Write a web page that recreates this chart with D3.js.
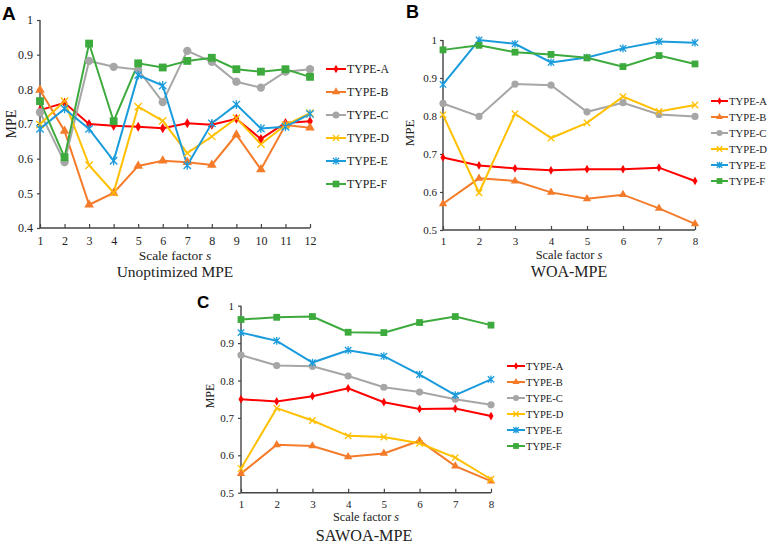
<!DOCTYPE html>
<html lang="en">
<head>
    <meta charset="UTF-8">
    <title>MPE comparison</title>
    <script src="https://d3js.org/d3.v7.min.js"></script>
    <style>
        body {
            margin: 0;
            background: #ffffff;
        }
        svg text {
            font-family: "Liberation Serif", "Times New Roman", serif;
            fill: #222;
        }
        svg text.panel-letter {
            font-family: "Liberation Sans", Arial, sans-serif;
            font-weight: bold;
            fill: #000;
        }
    </style>
</head>
<body>
<div id="chart"></div>
<script>
    // Series names shared by all three panels
    const seriesNames = ["TYPE-A", "TYPE-B", "TYPE-C", "TYPE-D", "TYPE-E", "TYPE-F"];
    const seriesColors = ["#ff0000", "#f47b2a", "#a6a6a6", "#ffc000", "#1a9bdc", "#3caa3c"];

    // Panel A - Unoptimized MPE (scale factor 1..12)
    const scalesA = [1, 2, 3, 4, 5, 6, 7, 8, 9, 10, 11, 12];
    const unoptTypeA = [0.740, 0.761, 0.700, 0.695, 0.692, 0.688, 0.702, 0.698, 0.715, 0.657, 0.703, 0.708];
    const unoptTypeB = [0.798, 0.680, 0.467, 0.501, 0.579, 0.594, 0.590, 0.582, 0.669, 0.569, 0.697, 0.689];
    const unoptTypeC = [0.734, 0.590, 0.882, 0.865, 0.857, 0.763, 0.911, 0.879, 0.822, 0.805, 0.851, 0.858];
    const unoptTypeD = [0.699, 0.766, 0.581, 0.502, 0.750, 0.709, 0.616, 0.664, 0.717, 0.642, 0.697, 0.731];
    const unoptTypeE = [0.686, 0.744, 0.686, 0.594, 0.841, 0.811, 0.581, 0.702, 0.756, 0.687, 0.692, 0.729];
    const unoptTypeF = [0.766, 0.604, 0.932, 0.708, 0.875, 0.863, 0.882, 0.891, 0.858, 0.851, 0.858, 0.836];
    const yTicksA = [0.4, 0.5, 0.6, 0.7, 0.8, 0.9, 1];

    // Panel B - WOA-MPE (scale factor 1..8)
    const scalesB = [1, 2, 3, 4, 5, 6, 7, 8];
    const woaTypeA = [0.691, 0.670, 0.662, 0.657, 0.660, 0.660, 0.664, 0.629];
    const woaTypeB = [0.569, 0.636, 0.629, 0.599, 0.582, 0.593, 0.557, 0.516];
    const woaTypeC = [0.833, 0.799, 0.884, 0.881, 0.811, 0.835, 0.804, 0.799];
    const woaTypeD = [0.803, 0.598, 0.806, 0.742, 0.782, 0.851, 0.812, 0.829];
    const woaTypeE = [0.883, 1.000, 0.990, 0.941, 0.954, 0.978, 0.996, 0.993];
    const woaTypeF = [0.974, 0.986, 0.968, 0.962, 0.953, 0.930, 0.959, 0.937];
    const yTicksB = [0.5, 0.6, 0.7, 0.8, 0.9, 1];

    // Panel C - SAWOA-MPE (scale factor 1..8)
    const scalesC = [1, 2, 3, 4, 5, 6, 7, 8];
    const sawoaTypeA = [0.750, 0.744, 0.758, 0.779, 0.742, 0.724, 0.725, 0.705];
    const sawoaTypeB = [0.551, 0.628, 0.625, 0.596, 0.605, 0.639, 0.571, 0.531];
    const sawoaTypeC = [0.868, 0.840, 0.838, 0.812, 0.782, 0.769, 0.750, 0.735];
    const sawoaTypeD = [0.565, 0.726, 0.693, 0.652, 0.649, 0.632, 0.594, 0.536];
    const sawoaTypeE = [0.928, 0.906, 0.848, 0.881, 0.865, 0.816, 0.761, 0.803];
    const sawoaTypeF = [0.963, 0.969, 0.971, 0.929, 0.928, 0.955, 0.971, 0.948];
    const yTicksC = [0.5, 0.6, 0.7, 0.8, 0.9, 1];

    const svg = d3.select("#chart")
        .append("svg")
        .attr("width", 768)
        .attr("height", 545);

    // marker drawing, one shape per series
    function marker(g, i, s) {
        const c = seriesColors[i];
        if (i === 0) {
            g.append("path").attr("d", d3.symbol().type(d3.symbolDiamond).size(22 * s * s)()).attr("fill", c);
        } else if (i === 1) {
            g.append("path").attr("d", d3.symbol().type(d3.symbolTriangle).size(30 * s * s)()).attr("fill", c);
        } else if (i === 2) {
            g.append("circle").attr("r", 3.6 * s).attr("fill", c);
        } else if (i === 3) {
            const r = 3.2 * s;
            g.append("path").attr("d", `M${-r},${-r}L${r},${r}M${-r},${r}L${r},${-r}`)
                .attr("stroke", c).attr("stroke-width", 1.3).attr("fill", "none");
        } else if (i === 4) {
            const r = 3.2 * s;
            g.append("path").attr("d", `M${-r},${-r}L${r},${r}M${-r},${r}L${r},${-r}M0,${-r * 1.2}L0,${r * 1.2}`)
                .attr("stroke", c).attr("stroke-width", 1.3).attr("fill", "none");
        } else {
            const r = 3.4 * s;
            g.append("rect").attr("x", -r).attr("y", -r).attr("width", 2 * r).attr("height", 2 * r).attr("fill", c);
        }
    }

    function drawPanel(p) {
        const x = d3.scaleLinear().domain(d3.extent(p.scales)).range([p.x0, p.x1]);
        const y = d3.scaleLinear().domain(d3.extent(p.yTicks)).range([p.y0, p.y1]);
        const g = svg.append("g");

        // axes
        const yAxis = g.append("g")
            .attr("transform", `translate(${p.x0},0)`)
            .call(d3.axisLeft(y).tickValues(p.yTicks).tickFormat(d => d === 1 ? "1" : d3.format(".1f")(d)).tickSize(3).tickPadding(p.tickPad));
        const xAxis = g.append("g")
            .attr("transform", `translate(0,${p.y0})`)
            .call(d3.axisBottom(x).tickValues(p.scales).tickFormat(d3.format("d")).tickSize(-4).tickPadding(p.xPad));
        [yAxis, xAxis].forEach(a => {
            a.attr("font-family", null);
            a.select(".domain").attr("stroke", "#444").attr("stroke-width", 1.4);
            a.selectAll(".tick line").attr("stroke", "#444").attr("stroke-width", 1.2);
            a.selectAll(".tick text")
                .style("font-size", p.tickFont + "px")
                .attr("fill", "#222");
        });
        yAxis.select(".domain").attr("d", `M0,${p.y0}V${p.y1}`);
        xAxis.select(".domain").attr("d", `M${p.x0},0H${p.x1}`);

        // lines and markers
        const line = d3.line().x((d, j) => x(p.scales[j])).y(d => y(d));
        p.series.forEach((vals, i) => {
            g.append("path")
                .datum(vals)
                .attr("d", line)
                .attr("fill", "none")
                .attr("stroke", seriesColors[i])
                .attr("stroke-width", 2);
        });
        p.series.forEach((vals, i) => {
            vals.forEach((v, j) => {
                const m = g.append("g").attr("transform", `translate(${x(p.scales[j])},${y(v)})`);
                marker(m, i, p.markScale);
            });
        });

        // labels
        g.append("text")
            .attr("transform", `translate(${p.yLab[0]},${p.yLab[1]}) rotate(-90)`)
            .attr("text-anchor", "middle")
            .style("font-size", p.yLabFont + "px")
            .text("MPE");
        const xl = g.append("text")
            .attr("x", (p.x0 + p.x1) / 2)
            .attr("y", p.xLabY)
            .attr("text-anchor", "middle")
            .style("font-size", p.labFont + "px");
        xl.append("tspan").text("Scale factor ");
        xl.append("tspan").style("font-style", "italic").text("s");
        g.append("text")
            .attr("x", p.titleX)
            .attr("y", p.titleY)
            .attr("text-anchor", "middle")
            .style("font-size", p.titleFont + "px")
            .text(p.title);
        g.append("text")
            .attr("class", "panel-letter")
            .attr("x", p.letter[0])
            .attr("y", p.letter[1])
            .style("font-size", p.letter[2] + "px")
            .text(p.letterText);

        // legend
        seriesNames.forEach((name, i) => {
            const ly = p.legY + i * p.legStep;
            g.append("line")
                .attr("x1", p.legX).attr("x2", p.legX + p.legLen)
                .attr("y1", ly).attr("y2", ly)
                .attr("stroke", seriesColors[i]).attr("stroke-width", 2);
            const m = g.append("g").attr("transform", `translate(${p.legX + p.legLen / 2},${ly})`);
            marker(m, i, p.markScale * 0.85);
            g.append("text")
                .attr("x", p.legX + p.legLen + 1)
                .attr("y", ly + p.legFont * 0.35)
                .style("font-size", p.legFont + "px")
                .text(name);
        });
    }

    drawPanel({
        scales: scalesA, yTicks: yTicksA,
        series: [unoptTypeA, unoptTypeB, unoptTypeC, unoptTypeD, unoptTypeE, unoptTypeF],
        x0: 40, x1: 310, y0: 228, y1: 20,
        tickFont: 12, tickPad: 4, xPad: 8.5, labFont: 13.5, yLabFont: 14, markScale: 1.15,
        yLab: [16, 124], xLabY: 259.5,
        title: "Unoptimized MPE", titleX: 175, titleY: 277, titleFont: 15.5,
        letter: [2, 20, 19], letterText: "A",
        legX: 326, legY: 69, legStep: 23, legLen: 20, legFont: 11.8
    });

    drawPanel({
        scales: scalesB, yTicks: yTicksB,
        series: [woaTypeA, woaTypeB, woaTypeC, woaTypeD, woaTypeE, woaTypeF],
        x0: 443, x1: 695, y0: 230, y1: 40,
        tickFont: 11, tickPad: 3, xPad: 7.5, labFont: 12.4, yLabFont: 13, markScale: 1,
        yLab: [414, 133], xLabY: 258.5,
        title: "WOA-MPE", titleX: 569, titleY: 277, titleFont: 16,
        letter: [406, 18, 18], letterText: "B",
        legX: 711, legY: 101, legStep: 16, legLen: 17, legFont: 10.7
    });

    drawPanel({
        scales: scalesC, yTicks: yTicksC,
        series: [sawoaTypeA, sawoaTypeB, sawoaTypeC, sawoaTypeD, sawoaTypeE, sawoaTypeF],
        x0: 241, x1: 491, y0: 492.7, y1: 305.7,
        tickFont: 11, tickPad: 4, xPad: 7.5, labFont: 12.3, yLabFont: 12, markScale: 1,
        yLab: [214, 396], xLabY: 521,
        title: "SAWOA-MPE", titleX: 364, titleY: 540.5, titleFont: 16.2,
        letter: [197, 308, 17], letterText: "C",
        legX: 507, legY: 366, legStep: 16, legLen: 18, legFont: 10.5
    });
</script>
</body>
</html>
